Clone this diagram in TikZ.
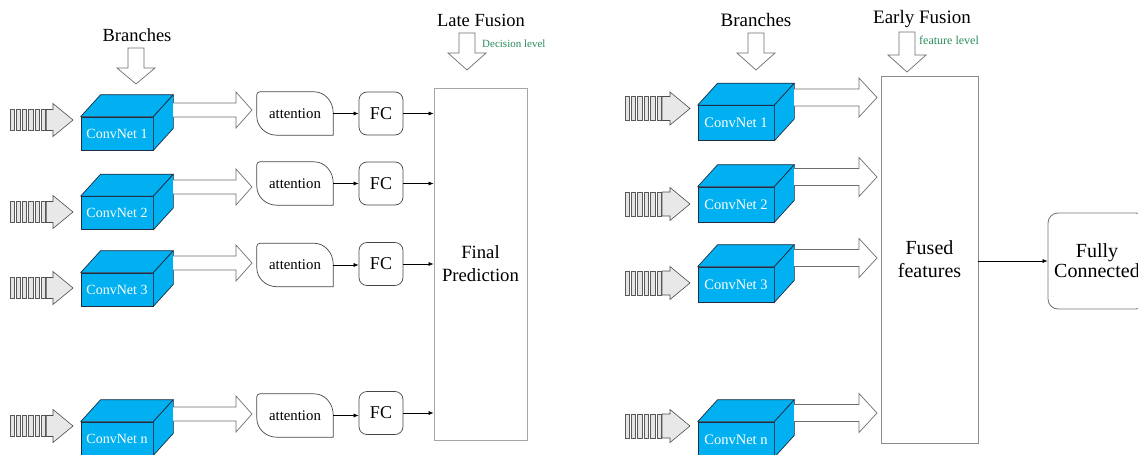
\documentclass[tikz,border=0pt]{standalone}
\usepackage{fontspec}
\setmainfont{Liberation Serif}
\usetikzlibrary{calc,arrows.meta}
\definecolor{cubefill}{RGB}{0,176,240}
\definecolor{cubeedge}{RGB}{30,45,65}
\definecolor{lvlgreen}{RGB}{40,140,90}
\definecolor{boxedge}{RGB}{70,70,70}
\definecolor{arredge}{RGB}{110,110,110}

\newcommand\convcube[4][]{% opts, name, position, text
  \node[cubefront,#1] (#2) at (#3) {#4};
  \draw[cubeface] (#2.north west) -- ++(20pt,22pt) -- ($(#2.north east)+(20pt,22pt)$) -- (#2.north east) -- cycle;
  \draw[cubeface] (#2.north east) -- ++(20pt,22pt) -- ($(#2.south east)+(20pt,22pt)$) -- (#2.south east) -- cycle;
}
\newcommand\inarrow[5]{% x0, y, pitch, bar half height, tip x
  \foreach \i in {0,...,5}
    \draw[barstyle] (#1+\i*#3,#2-#4) rectangle ++(#3-2,2*#4);
  \draw[inarr] (#1+6*#3-1,#2-#4) -- (#5-20,#2-#4) -- (#5-20,#2-16.5) -- (#5,#2)
     -- (#5-20,#2+16.5) -- (#5-20,#2+#4) -- (#1+6*#3-1,#2+#4) -- cycle;
}
\newcommand\bigarrow[6]{% x1, x2, y, shaft half, head half, head length
  \filldraw[bigarr] (#1,#3-#4) -- (#2-#6,#3-#4) -- (#2-#6,#3-#5) -- (#2,#3)
     -- (#2-#6,#3+#5) -- (#2-#6,#3+#4) -- (#1,#3+#4);
}
\newcommand\dnarrow[4]{% x, ytop, ybase, ytip
  \draw[bigarr] (#1-8,#2) -- (#1-8,#3) -- (#1-19,#3) -- (#1,#4) -- (#1+19,#3)
     -- (#1+8,#3) -- (#1+8,#2) -- cycle;
}
\newcommand\attshape[1]{%
  \draw[attline] ([xshift=3pt]#1.north west) -- ([xshift=-19pt]#1.north east)
    arc[start angle=90,end angle=0,x radius=19pt,y radius=21pt]
    -- (#1.south east) -- ([xshift=20pt]#1.south west)
    arc[start angle=270,end angle=180,x radius=20pt,y radius=19pt]
    -- ([yshift=-3pt]#1.north west)
    arc[start angle=180,end angle=90,radius=3pt] -- cycle;
}

\begin{document}
\begin{tikzpicture}[x=1pt,y=-1pt,
  cubefront/.style={draw=cubeedge, fill=cubefill, line width=0.7pt, inner sep=0pt,
     text=white, font=\fontsize{14}{16}\selectfont, minimum width=72pt, minimum height=33pt},
  cubeface/.style={draw=cubeedge, fill=cubefill, line width=0.7pt, line join=round},
  barstyle/.style={draw=black!65, fill=black!10, line width=0.5pt},
  inarr/.style={draw=black!70, fill=black!9, line width=0.6pt, line join=miter},
  bigarr/.style={draw=arredge, fill=white, line width=0.7pt},
  attline/.style={draw=boxedge, line width=0.7pt},
  attnode/.style={minimum width=76pt, minimum height=43pt, inner sep=0pt,
     font=\fontsize{14.8}{16}\selectfont},
  fcnode/.style={draw=boxedge, line width=0.7pt, rounded corners=8pt, minimum width=44pt,
     minimum height=43pt, inner sep=0pt, font=\fontsize{18}{20}\selectfont},
  title/.style={font=\fontsize{18.5}{22}\selectfont, inner sep=0pt},
  level/.style={text=lvlgreen, inner sep=0pt, anchor=west},
  conn/.style={draw=black, line width=0.6pt, -{Latex[length=5pt,width=4pt]}},
]
\useasboundingbox (0,0) rectangle (1138,455);

% ---------------- Left panel: late fusion ----------------
\node[title] (brL) at (137,35) {Branches};
\dnarrow{136}{48}{68}{84}
\node[title] (late) at (481,20) {Late Fusion};
\dnarrow{467}{33}{53}{70}
\node[level, font=\fontsize{11}{13}\selectfont] (dec) at (482,44) {Decision level};

\node[draw=black!35, line width=0.8pt, minimum width=93pt, minimum height=352pt,
      inner sep=0pt, align=center, font=\fontsize{18.7}{23}\selectfont] (fp) at (480.5,264) {Final\\Prediction};

% row 1
\inarrow{10}{120}{6.2}{10.5}{73}
\convcube{cl1}{117,133.5}{ConvNet 1}
\bigarrow{173}{252}{110}{7}{18}{16}
\node[attnode] (at1) at (295,113.5) {attention};
\attshape{at1}
\node[fcnode] (fc1) at (381,113.5) {FC};
\draw[conn] (at1.east) -- (fc1.west);
\draw[conn] (fc1.east) -- (fc1.east -| fp.west);
% row 2
\inarrow{10}{212}{6.2}{10.5}{73}
\convcube{cl2}{117,213}{ConvNet 2}
\bigarrow{173}{252}{187}{7}{18}{16}
\node[attnode] (at2) at (295,183.5) {attention};
\attshape{at2}
\node[fcnode] (fc2) at (381,183.5) {FC};
\draw[conn] (at2.east) -- (fc2.west);
\draw[conn] (fc2.east) -- (fc2.east -| fp.west);
% row 3
\inarrow{10}{288}{6.2}{10.5}{73}
\convcube{cl3}{117,289.5}{ConvNet 3}
\bigarrow{173}{252}{263}{7}{18}{16}
\node[attnode] (at3) at (295,265) {attention};
\attshape{at3}
\node[fcnode] (fc3) at (381,264) {FC};
\draw[conn] (at3.east) -- (at3.east -| fc3.west);
\draw[conn] (fc3.east) -- (fc3.east -| fp.west);
% row 4
\inarrow{10}{426}{6.2}{10.5}{73}
\convcube{cl4}{117,438.5}{ConvNet n}
\bigarrow{173}{252}{414}{7}{18}{16}
\node[attnode] (at4) at (295,415.5) {attention};
\attshape{at4}
\node[fcnode] (fc4) at (381,413) {FC};
\draw[conn] (at4.east) -- (at4.east -| fc4.west);
\draw[conn] (fc4.east) -- (fc4.east -| fp.west);

% ---------------- Right panel: early fusion ----------------
\node[title, font=\fontsize{19}{22}\selectfont] (brR) at (756,20) {Branches};
\dnarrow{756}{33}{53}{70}
\node[title, font=\fontsize{19}{22}\selectfont] (early) at (922,19) {Early Fusion};
\dnarrow{907}{32}{55}{72}
\node[level, font=\fontsize{12}{14}\selectfont] (feat) at (919,40) {feature level};

\node[draw=black!45, line width=0.8pt, minimum width=97pt, minimum height=367pt,
      inner sep=0pt, align=center, font=\fontsize{20}{23}\selectfont] (fused) at (929.5,259.5) {Fused\\features};
\node[draw=black!55, line width=0.8pt, rounded corners=10pt, minimum width=98pt, minimum height=96pt,
      inner sep=0pt, align=center, font=\fontsize{20}{20}\selectfont] (fcon) at (1097,261) {Fully\\Connected};
\draw[conn] (fused.east |- fcon.west) -- (fcon.west);

\inarrow{625}{108.5}{6.35}{12}{690}
\convcube[minimum width=76pt, minimum height=35pt, font=\fontsize{14.5}{16}\selectfont]{cr1}{736,123}{ConvNet 1}
\bigarrow{794}{877}{97.5}{8.5}{19.5}{18}
\inarrow{625}{204}{6.35}{12}{690}
\convcube[minimum width=76pt, minimum height=35pt, font=\fontsize{14.5}{16}\selectfont]{cr2}{736,204.5}{ConvNet 2}
\bigarrow{794}{877}{177}{8.5}{19.5}{18}
\inarrow{625}{283}{6.35}{12}{690}
\convcube[minimum width=76pt, minimum height=35pt, font=\fontsize{14.5}{16}\selectfont]{cr3}{736,284.5}{ConvNet 3}
\bigarrow{794}{877}{258}{8.5}{19.5}{18}
\inarrow{625}{426}{6.35}{12}{690}
\convcube[minimum width=76pt, minimum height=35pt, font=\fontsize{14.5}{16}\selectfont]{cr4}{736,439.5}{ConvNet n}
\bigarrow{794}{877}{413}{8.5}{19.5}{18}
\end{tikzpicture}
\end{document}
